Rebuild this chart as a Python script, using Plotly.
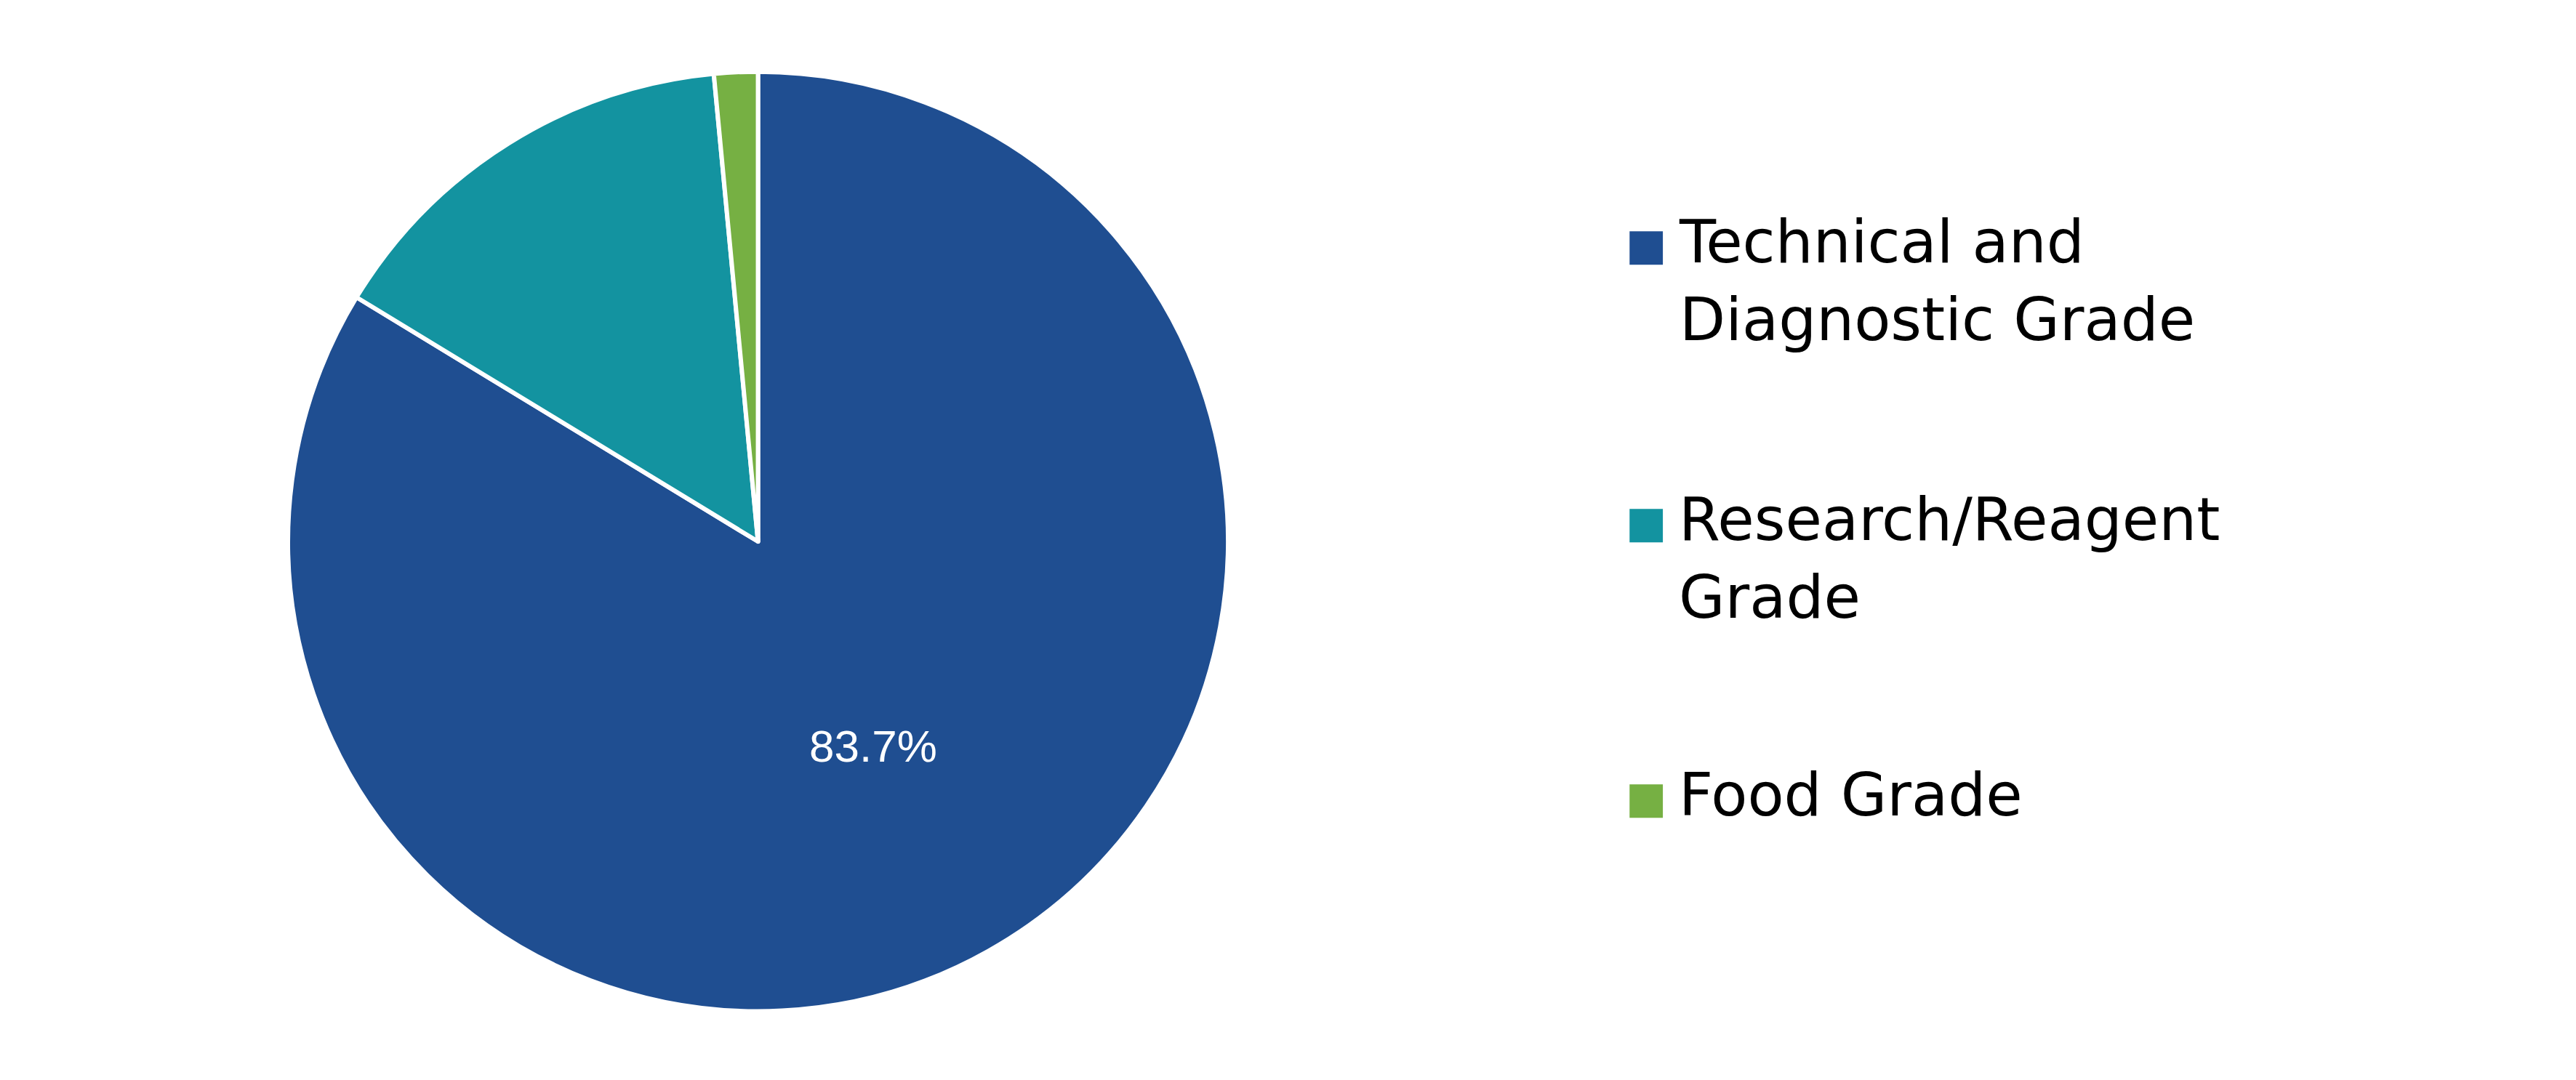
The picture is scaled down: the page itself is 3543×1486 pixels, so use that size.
import plotly.graph_objects as go

labels = ["Technical and Diagnostic Grade", "Research/Reagent Grade", "Food Grade"]
legend_text = ["Technical and<br>Diagnostic Grade", "Research/Reagent<br>Grade", "Food Grade"]
values = [83.7, 14.8, 1.5]
slice_text = ["83.7%", "", ""]
colors = ["#1f4e91", "#1393a0", "#76b043"]
legend_y = [0.779, 0.522, 0.267]  # centre of first line of each legend entry

fig = go.Figure()
fig.add_trace(
    go.Pie(
        labels=labels,
        values=values,
        text=slice_text,
        texttemplate="%{text}",
        textposition="inside",
        insidetextorientation="horizontal",
        textfont=dict(color="white", size=62, family="Arial, Liberation Sans"),
        marker=dict(colors=colors, line=dict(color="white", width=6)),
        sort=False,
        direction="clockwise",
        rotation=0,
        domain=dict(x=[0.109, 0.475], y=[0.069, 0.939]),
        hoverinfo="label+percent",
        showlegend=False,
    )
)

# legend drawn as annotations so the colour squares match the reference size
for txt, col, y in zip(legend_text, colors, legend_y):
    fig.add_annotation(
        x=0.637, y=y, xref="paper", yref="paper", text="■",
        showarrow=False, xanchor="center", yanchor="middle",
        font=dict(size=60, color=col, family="DejaVu Sans"),
    )
    fig.add_annotation(
        x=0.649, y=y + 0.036, xref="paper", yref="paper", text=txt,
        showarrow=False, xanchor="left", yanchor="top", align="left",
        font=dict(size=82, color="black", family="DejaVu Sans, Verdana"),
    )

fig.update_layout(
    width=3543,
    height=1486,
    margin=dict(l=0, r=0, t=0, b=0),
    paper_bgcolor="white",
    font=dict(family="DejaVu Sans, Verdana", size=72, color="black"),
)
fig.write_html("out.html")
